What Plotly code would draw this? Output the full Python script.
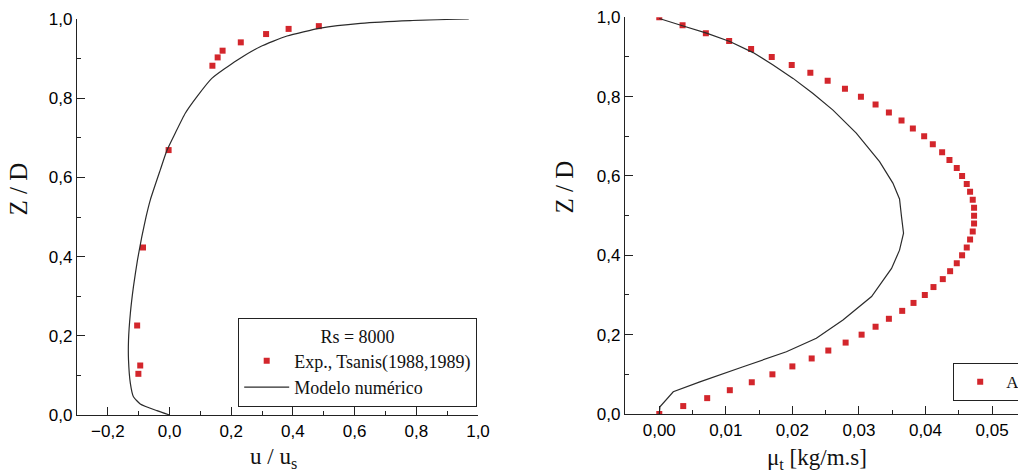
import plotly.graph_objects as go

# ---- Left panel: velocity profile ----
exp_u = [-0.003, 0.139, 0.156, 0.172, 0.231, 0.313, 0.386, 0.484,
         -0.086, -0.105, -0.095, -0.101]
exp_z = [0.669, 0.882, 0.903, 0.920, 0.941, 0.962, 0.975, 0.982,
         0.423, 0.226, 0.125, 0.104]

num_u = [0.000, -0.041, -0.095, -0.117, -0.127, -0.133, -0.133, -0.127, -0.117,
         -0.104, -0.090, -0.076, -0.062, -0.030, -0.008, 0.018, 0.051, 0.089,
         0.137, 0.219, 0.294, 0.381, 0.489, 0.619, 0.780, 0.970]
num_z = [0.000, 0.011, 0.028, 0.046, 0.080, 0.139, 0.189, 0.257, 0.324,
         0.391, 0.450, 0.501, 0.544, 0.619, 0.669, 0.711, 0.762, 0.804,
         0.850, 0.896, 0.930, 0.957, 0.977, 0.989, 0.996, 1.000]

# ---- Right panel: turbulent viscosity ----
mu_exp_z = [0.00, 0.02, 0.04, 0.06, 0.08, 0.10, 0.12, 0.14, 0.16, 0.18,
            0.20, 0.22, 0.24, 0.26, 0.28, 0.30, 0.32, 0.34, 0.36, 0.38,
            0.40, 0.42, 0.44, 0.46, 0.48, 0.50, 0.52, 0.54, 0.56, 0.58,
            0.60, 0.62, 0.64, 0.66, 0.68, 0.70, 0.72, 0.74, 0.76, 0.78,
            0.80, 0.82, 0.84, 0.86, 0.88, 0.90, 0.92, 0.94, 0.96, 0.98, 1.00]
mu_exp = [0.0000, 0.0036, 0.0072, 0.0106, 0.0139, 0.0170, 0.0200, 0.0229, 0.0254, 0.0280,
          0.0304, 0.0325, 0.0345, 0.0365, 0.0382, 0.0399, 0.0412, 0.0426, 0.0437, 0.0447,
          0.0455, 0.0462, 0.0467, 0.0471, 0.0473, 0.0473, 0.0473, 0.0471, 0.0467, 0.0462,
          0.0455, 0.0447, 0.0436, 0.0425, 0.0411, 0.0398, 0.0381, 0.0364, 0.0345, 0.0325,
          0.0303, 0.0279, 0.0253, 0.0227, 0.0199, 0.0169, 0.0138, 0.0105, 0.0070, 0.0035, 0.0000]

mu_num = [0.0000, 0.0001, 0.0021, 0.0061, 0.0126, 0.0191, 0.0236, 0.0276, 0.0319,
          0.0349, 0.0361, 0.0367, 0.0364, 0.0361, 0.0351, 0.0331, 0.0296, 0.0261,
          0.0231, 0.0201, 0.0171, 0.0141, 0.0106, 0.0071, 0.0036, 0.0000]
mu_num_z = [0.000, 0.018, 0.056, 0.081, 0.119, 0.157, 0.191, 0.237, 0.296,
            0.367, 0.413, 0.456, 0.497, 0.542, 0.582, 0.636, 0.708, 0.766,
            0.808, 0.846, 0.880, 0.911, 0.939, 0.960, 0.978, 0.997]

left_xticks = [-0.2, 0.0, 0.2, 0.4, 0.6, 0.8, 1.0]
right_xticks = [0.00, 0.01, 0.02, 0.03, 0.04, 0.05]
yticks = [0.0, 0.2, 0.4, 0.6, 0.8, 1.0]

RED = "#d3262c"
LINE = "#2b2b2b"
W, H = 1018, 475
SERIF = "Liberation Serif, Times New Roman, serif"

fig = go.Figure()

fig.add_trace(go.Scatter(x=exp_u, y=exp_z, mode="markers", name="Exp., Tsanis(1988,1989)",
                         marker=dict(symbol="square", size=6, color=RED),
                         xaxis="x", yaxis="y", legend="legend"))
fig.add_trace(go.Scatter(x=num_u, y=num_z, mode="lines", name="Modelo numérico",
                         line=dict(color=LINE, width=1.2, shape="spline", smoothing=0.5),
                         xaxis="x", yaxis="y", legend="legend"))
fig.add_trace(go.Scatter(x=mu_exp, y=mu_exp_z, mode="markers", name="A",
                         marker=dict(symbol="square", size=6, color=RED),
                         xaxis="x2", yaxis="y2", legend="legend2"))
fig.add_trace(go.Scatter(x=mu_num, y=mu_num_z, mode="lines", name="Modelo",
                         line=dict(color=LINE, width=1.2), showlegend=False,
                         xaxis="x2", yaxis="y2"))

tickfont = dict(family="Liberation Sans, Arial, sans-serif", size=17, color="#000")
axcommon = dict(showline=True, linecolor="#222", linewidth=1.3, ticks="inside",
                ticklen=8, tickwidth=1.3, tickcolor="#222", showgrid=False,
                zeroline=False, tickfont=tickfont, mirror=False)
minor_y = dict(ticks="inside", ticklen=4, dtick=0.1, tick0=0, tickcolor="#222")

fig.update_layout(
    width=W, height=H,
    margin=dict(l=0, r=0, t=0, b=0, autoexpand=False),
    paper_bgcolor="white", plot_bgcolor="white",
    separators=",.",
    xaxis=dict(domain=[77 / W, 478 / W], range=[-0.3, 1.0], tickvals=left_xticks,
               tickformat=".1f", anchor="y",
               minor=dict(ticks="inside", ticklen=4, dtick=0.1, tick0=0, tickcolor="#222"),
               **axcommon),
    yaxis=dict(domain=[(H - 415) / H, (H - 19) / H], range=[0, 1.0], tickvals=yticks,
               tickformat=".1f", anchor="x", minor=minor_y, **axcommon),
    xaxis2=dict(domain=[625 / W, 1.0], range=[-0.00515, 0.0539], tickvals=right_xticks,
                tickformat=".2f", anchor="y2",
                minor=dict(ticks="inside", ticklen=4, dtick=0.005, tick0=0, tickcolor="#222"),
                **axcommon),
    yaxis2=dict(domain=[(H - 414) / H, (H - 17.3) / H], range=[0, 1.0], tickvals=yticks,
                tickformat=".1f", anchor="x2", minor=minor_y, **axcommon),
    legend=dict(x=238 / W, y=(H - 318) / H, xanchor="left", yanchor="top",
                bgcolor="white", bordercolor="#222", borderwidth=1.2,
                itemwidth=45,
                font=dict(family=SERIF, size=18, color="#111"),
                title=dict(text="Rs = 8000", side="top center",
                           font=dict(family=SERIF, size=18, color="#111")),
                tracegroupgap=0),
    legend2=dict(x=953 / W, y=(H - 363) / H, xanchor="left", yanchor="top",
                 bgcolor="white", bordercolor="#222", borderwidth=1.2,
                 itemwidth=42,
                 font=dict(family=SERIF, size=17, color="#111")),
    annotations=[
        dict(text="Z / D", x=18 / W, y=(H - 189.5) / H, xref="paper", yref="paper",
             textangle=-90, showarrow=False, xanchor="center", yanchor="middle",
             font=dict(family=SERIF, size=25, color="#111")),
        dict(text="Z / D", x=564 / W, y=(H - 187.5) / H, xref="paper", yref="paper",
             textangle=-90, showarrow=False, xanchor="center", yanchor="middle",
             font=dict(family=SERIF, size=25, color="#111")),
        dict(text="u / u<sub>s</sub>", x=273 / W, y=(H - 458) / H, xref="paper", yref="paper",
             showarrow=False, xanchor="center", yanchor="middle",
             font=dict(family=SERIF, size=23, color="#111")),
        dict(text="μ<sub>t</sub> [kg/m.s]", x=817 / W, y=(H - 459) / H, xref="paper", yref="paper",
             showarrow=False, xanchor="center", yanchor="middle",
             font=dict(family=SERIF, size=23, color="#111")),
    ],
)

fig.write_html("out.html")
